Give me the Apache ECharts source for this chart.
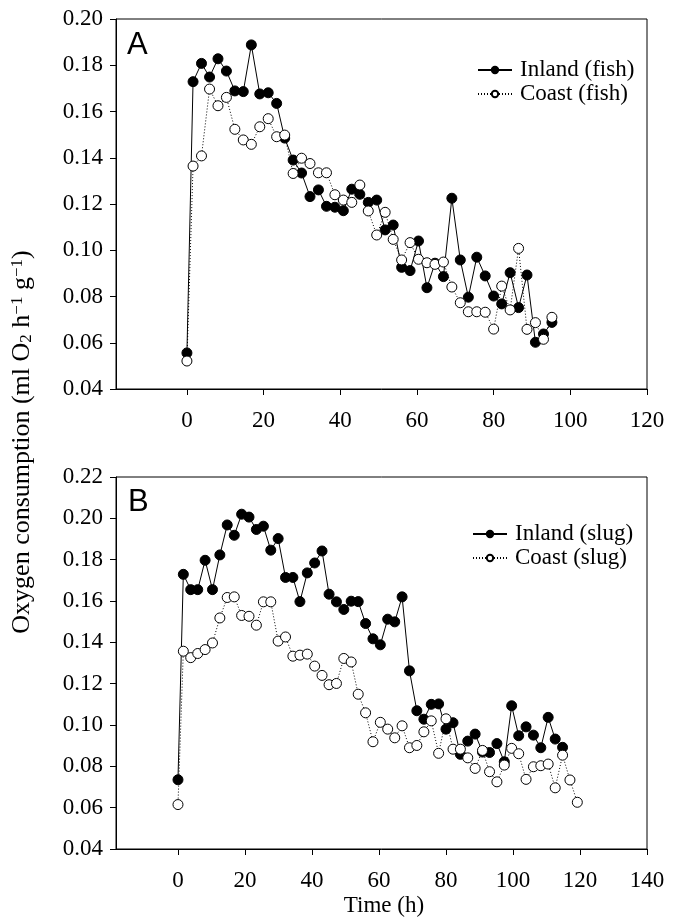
<!DOCTYPE html>
<html><head><meta charset="utf-8">
<script src="https://cdn.jsdelivr.net/npm/echarts@6/dist/echarts.min.js"></script>
<style>html,body{margin:0;padding:0;background:#fff}#c{width:680px;height:924px}</style>
</head><body><div id="c"></div>
<script>
// ---- data ----
const timeA = [0, 1.6, 3.8, 5.9, 8.1, 10.3, 12.5, 14.7, 16.8, 19.0, 21.2, 23.4, 25.5, 27.7, 29.9, 32.1, 34.3, 36.4, 38.6, 40.8, 43.0, 45.1, 47.3, 49.5, 51.7, 53.8, 56.0, 58.2, 60.4, 62.6, 64.7, 66.9, 69.1, 71.3, 73.4, 75.6, 77.8, 80.0, 82.1, 84.3, 86.5, 88.7, 90.9, 93.0, 95.2];
const inlandFish = [0.0556, 0.1729, 0.1808, 0.1749, 0.1828, 0.1775, 0.1689, 0.1686, 0.1888, 0.1676, 0.1681, 0.1635, 0.1485, 0.1390, 0.1334, 0.1232, 0.1261, 0.1190, 0.1186, 0.1171, 0.1264, 0.1242, 0.1207, 0.1217, 0.1088, 0.1109, 0.0926, 0.0912, 0.1040, 0.0838, 0.0944, 0.0886, 0.1225, 0.0958, 0.0797, 0.0970, 0.0889, 0.0802, 0.0768, 0.0903, 0.0752, 0.0893, 0.0602, 0.0638, 0.0688];
const coastFish = [0.0521, 0.1364, 0.1408, 0.1697, 0.1625, 0.1661, 0.1523, 0.1477, 0.1458, 0.1534, 0.1569, 0.1491, 0.1498, 0.1332, 0.1398, 0.1375, 0.1335, 0.1335, 0.1240, 0.1217, 0.1207, 0.1282, 0.1170, 0.1066, 0.1164, 0.1047, 0.0958, 0.1033, 0.0961, 0.0946, 0.0939, 0.0949, 0.0841, 0.0773, 0.0734, 0.0734, 0.0732, 0.0659, 0.0845, 0.0742, 0.1008, 0.0658, 0.0687, 0.0615, 0.0710];

const timeB = [0, 1.6, 3.8, 5.9, 8.1, 10.3, 12.5, 14.7, 16.8, 19.0, 21.2, 23.4, 25.5, 27.7, 29.9, 32.1, 34.3, 36.4, 38.6, 40.8, 43.0, 45.1, 47.3, 49.5, 51.7, 53.8, 56.0, 58.2, 60.4, 62.6, 64.7, 66.9, 69.1, 71.3, 73.4, 75.6, 77.8, 80.0, 82.1, 84.3, 86.5, 88.7, 90.9, 93.0, 95.2, 97.4, 99.6, 101.7, 103.9, 106.1, 108.3, 110.5, 112.6, 114.8, 117.0, 119.2];
const inlandSlug = [0.0735, 0.1729, 0.1655, 0.1655, 0.1797, 0.1655, 0.1823, 0.1968, 0.1918, 0.2020, 0.2006, 0.1946, 0.1962, 0.1846, 0.1902, 0.1714, 0.1714, 0.1597, 0.1736, 0.1784, 0.1842, 0.1633, 0.1596, 0.1559, 0.1599, 0.1597, 0.1491, 0.1417, 0.1388, 0.1512, 0.1499, 0.1620, 0.1262, 0.1069, 0.1028, 0.1100, 0.1102, 0.0980, 0.1011, 0.0858, 0.0922, 0.0956, 0.0869, 0.0867, 0.0910, 0.0822, 0.1093, 0.0948, 0.0991, 0.0951, 0.0890, 0.1037, 0.0932, 0.0892];
const coastSlug = [0.0615, 0.1357, 0.1326, 0.1346, 0.1365, 0.1397, 0.1518, 0.1617, 0.1620, 0.1530, 0.1526, 0.1483, 0.1596, 0.1596, 0.1406, 0.1426, 0.1333, 0.1338, 0.1343, 0.1285, 0.1240, 0.1195, 0.1201, 0.1322, 0.1305, 0.1149, 0.1059, 0.0919, 0.1013, 0.0980, 0.0938, 0.0996, 0.0890, 0.0901, 0.0967, 0.1020, 0.0863, 0.1030, 0.0883, 0.0883, 0.0841, 0.0790, 0.0877, 0.0774, 0.0725, 0.0806, 0.0887, 0.0861, 0.0737, 0.0798, 0.0803, 0.0811, 0.0696, 0.0854, 0.0734, 0.0626];

const xTicksA = [0, 20, 40, 60, 80, 100, 120];
const xTicksB = [0, 20, 40, 60, 80, 100, 120, 140];
const namesA = ['Inland (fish)', 'Coast (fish)'];
const namesB = ['Inland (slug)', 'Coast (slug)'];

// ---- chart ----
const serif = 'Liberation Serif';
const sans = 'Liberation Sans';
function pairs(t, v) { return v.map((y, i) => [t[i], y]); }

function xAxisCfg(grid, max, ticks) {
  return {
    gridIndex: grid, type: 'value', min: -18.5, max: max,
    axisLine: { show: true, onZero: false, lineStyle: { color: '#000', width: 1 } },
    axisTick: { show: true, customValues: ticks, length: 6, inside: false, lineStyle: { color: '#000', width: 1 } },
    axisLabel: { show: true, customValues: ticks, margin: 20, color: '#000', fontFamily: serif, fontSize: 23 },
    splitLine: { show: false }
  };
}
function yAxisCfg(grid, max) {
  return {
    gridIndex: grid, type: 'value', min: 0.04, max: max, interval: 0.02,
    axisLine: { show: true, onZero: false, lineStyle: { color: '#000', width: 1 } },
    axisTick: { show: true, length: 6, inside: false, lineStyle: { color: '#000', width: 1 } },
    axisLabel: { show: true, margin: 13, color: '#000', fontFamily: serif, fontSize: 23,
      showMinLabel: true, showMaxLabel: true, formatter: v => v.toFixed(2) },
    splitLine: { show: false }
  };
}
function seriesCfg(name, idx, t, v, filled) {
  return {
    name: name, type: 'line', xAxisIndex: idx, yAxisIndex: idx,
    data: pairs(t, v), symbol: 'circle', symbolSize: 10, showAllSymbol: true,
    silent: true, animation: false,
    lineStyle: filled ? { color: '#000', width: 1 } : { color: '#000', width: 1, type: [1, 2] },
    itemStyle: filled ? { color: '#000', borderColor: '#000', borderWidth: 1 } : { color: '#fff', borderColor: '#000', borderWidth: 1 },
    emphasis: { disabled: true }
  };
}
function legendCfg(names, left, top) {
  return {
    data: names, orient: 'vertical', left: left, top: top, itemWidth: 34, itemHeight: 8, itemGap: 0,
    selectedMode: false, padding: 0,
    textStyle: { fontFamily: serif, fontSize: 23, color: '#000', lineHeight: 24, padding: [0, 0, 0, 3] }
  };
}

const chart = echarts.init(document.getElementById('c'), null, { renderer: 'canvas' });
chart.setOption({
  animation: false,
  backgroundColor: '#fff',
  grid: [
    { left: 116, top: 19, width: 531, height: 370, show: true, borderColor: '#000', borderWidth: 1, backgroundColor: 'transparent' },
    { left: 116, top: 477, width: 531, height: 372, show: true, borderColor: '#000', borderWidth: 1, backgroundColor: 'transparent' }
  ],
  xAxis: [xAxisCfg(0, 120, xTicksA), xAxisCfg(1, 140, xTicksB)],
  yAxis: [yAxisCfg(0, 0.20), yAxisCfg(1, 0.22)],
  legend: [legendCfg(namesA, 477, 58), legendCfg(namesB, 472, 522)],
  tooltip: { show: false },
  series: [
    seriesCfg(namesA[0], 0, timeA, inlandFish, true),
    seriesCfg(namesA[1], 0, timeA, coastFish, false),
    seriesCfg(namesB[0], 1, timeB, inlandSlug, true),
    seriesCfg(namesB[1], 1, timeB, coastSlug, false)
  ],
  graphic: [
    { type: 'text', x: 127, y: 45, style: { text: 'A', fontFamily: sans, fontSize: 31, fill: '#000', verticalAlign: 'middle' } },
    { type: 'text', x: 128, y: 502, style: { text: 'B', fontFamily: sans, fontSize: 31, fill: '#000', verticalAlign: 'middle' } },
    { type: 'text', x: 384, y: 906, style: { text: 'Time (h)', fontFamily: serif, fontSize: 23, fill: '#000', align: 'center', verticalAlign: 'middle' } },
    { type: 'text', x: 22, y: 442, rotation: Math.PI / 2,
      style: {
        text: 'Oxygen consumption (ml O{sub|2} h{sup|\u22121} g{sup|\u22121})',
        fontFamily: serif, fontSize: 26, fill: '#000', align: 'center', verticalAlign: 'middle',
        rich: {
          sub: { fontFamily: serif, fontSize: 17, fill: '#000', verticalAlign: 'bottom', padding: [7, 0, 0, 0] },
          sup: { fontFamily: serif, fontSize: 17, fill: '#000', verticalAlign: 'top', padding: [0, 0, 7, 0] }
        }
      } }
  ]
});
</script></body></html>
